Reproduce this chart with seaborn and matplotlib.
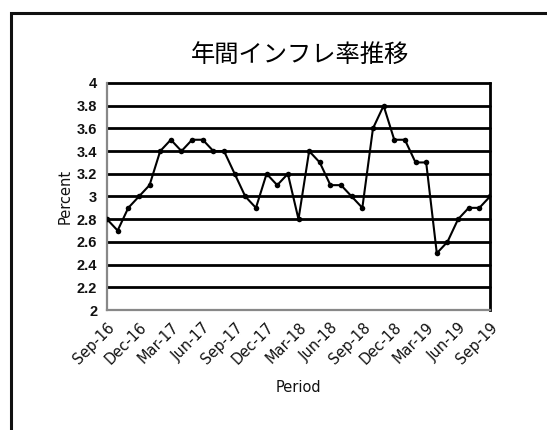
import matplotlib
matplotlib.use("Agg")
import matplotlib.pyplot as plt
import seaborn as sns
import pandas as pd
from matplotlib.patches import Rectangle

months = ["Sep-16", "Oct-16", "Nov-16", "Dec-16", "Jan-17", "Feb-17", "Mar-17", "Apr-17",
          "May-17", "Jun-17", "Jul-17", "Aug-17", "Sep-17", "Oct-17", "Nov-17", "Dec-17",
          "Jan-18", "Feb-18", "Mar-18", "Apr-18", "May-18", "Jun-18", "Jul-18", "Aug-18",
          "Sep-18", "Oct-18", "Nov-18", "Dec-18", "Jan-19", "Feb-19", "Mar-19", "Apr-19",
          "May-19", "Jun-19", "Jul-19", "Aug-19", "Sep-19"]
inflation = [2.8, 2.7, 2.9, 3.0, 3.1, 3.4, 3.5, 3.4, 3.5, 3.5, 3.4, 3.4, 3.2, 3.0, 2.9, 3.2,
             3.1, 3.2, 2.8, 3.4, 3.3, 3.1, 3.1, 3.0, 2.9, 3.6, 3.8, 3.5, 3.5, 3.3, 3.3, 2.5,
             2.6, 2.8, 2.9, 2.9, 3.0]
y_ticks = [2, 2.2, 2.4, 2.6, 2.8, 3, 3.2, 3.4, 3.6, 3.8, 4]
title = "年間インフレ率推移"

sns.set_theme(style="white")
plt.rcParams['font.family'] = ['Noto Sans CJK JP', 'DejaVu Sans']

df = pd.DataFrame({"idx": range(len(months)), "Percent": inflation})

fig = plt.figure(figsize=(5.47, 4.30), dpi=100)
ax = fig.add_axes([107/547, 1-310/430, (490-107)/547, (310-83)/430])

# frame around the figure (only top/left visible)
fig.patches.append(Rectangle((11/547, -0.1), 1.2, 1 - 13/430 + 0.1, transform=fig.transFigure,
                             fill=False, edgecolor="#111111", linewidth=2.2))

for v in y_ticks[1:]:
    ax.axhline(v, color="black", linewidth=2.0, zorder=1, clip_on=False)

sns.lineplot(data=df, x="idx", y="Percent", ax=ax, color="black", linewidth=1.5,
             marker="o", markersize=4, markeredgewidth=0, zorder=3)

ax.set_xlim(0, len(months) - 1)
ax.set_ylim(2, 4)
ax.set_yticks(y_ticks)
ax.set_yticklabels([f"{v:g}" for v in y_ticks], fontweight="bold", fontsize=10.5,
                   family=["Liberation Sans", "DejaVu Sans"])
ax.set_xticks(range(len(months)))
ax.set_xticklabels([m if i % 3 == 0 else "" for i, m in enumerate(months)],
                   rotation=45, ha="right", rotation_mode="anchor", fontsize=10.5,
                   family=["DejaVu Sans"])
ax.tick_params(axis="both", which="major", length=8, width=1.5, color="#888888",
               direction="inout", pad=3, labelcolor="#111111")

ax.spines["top"].set_visible(False)
ax.spines["left"].set_color("#888888")
ax.spines["left"].set_linewidth(1.6)
ax.spines["bottom"].set_color("#888888")
ax.spines["bottom"].set_linewidth(1.6)
ax.spines["right"].set_color("black")
ax.spines["right"].set_linewidth(2.0)

ax.set_xlabel("Period", fontsize=10.5, family=["DejaVu Sans"], color="#111111", labelpad=9)
ax.set_ylabel("Percent", fontsize=10.5, family=["DejaVu Sans"], color="#111111", labelpad=3)

fig.text(300/547, 1-55/430, title, ha="center", va="center", fontsize=17.5,
         family=["Noto Sans CJK JP", "DejaVu Sans"], color="black")

fig.savefig("out.png", dpi=100)
